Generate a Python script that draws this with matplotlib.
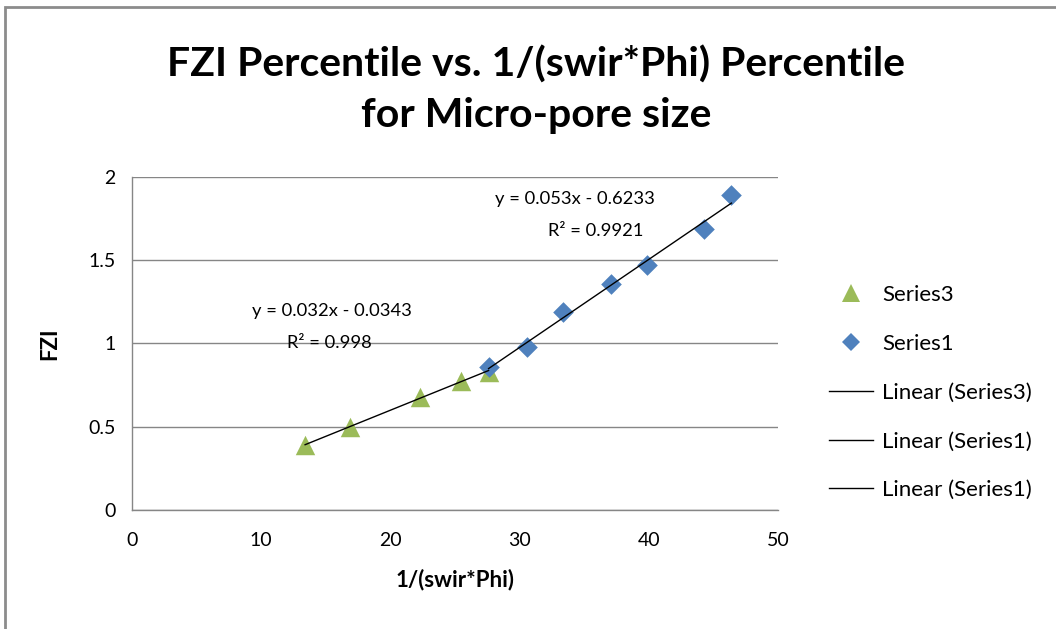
import numpy as np
import matplotlib.pyplot as plt
from matplotlib.lines import Line2D
from matplotlib.patches import Rectangle

plt.rcParams['font.family'] = ['Lato', 'DejaVu Sans']

# Series3 (triangles)
s3_x = [13.4, 16.9, 22.3, 25.5, 27.6]
s3_y = [0.39, 0.50, 0.68, 0.775, 0.83]

# Series1 (diamonds)
s1_x = [27.6, 30.6, 33.4, 37.1, 39.9, 44.3, 46.4]
s1_y = [0.86, 0.98, 1.19, 1.36, 1.47, 1.69, 1.89]

x_ticks = [0, 10, 20, 30, 40, 50]
y_ticks = [0, 0.5, 1, 1.5, 2]
y_tick_labels = ['0', '0.5', '1', '1.5', '2']

green = '#9BBB59'
blue = '#4F81BD'
grid_col = '#868686'

fig = plt.figure(figsize=(10.56, 6.29), dpi=100)
ax = fig.add_axes([0.125, 0.1892, 0.6117, 0.5294])

ax.scatter(s3_x, s3_y, marker='^', s=14**2, color=green, zorder=3, linewidths=0)
ax.scatter(s1_x, s1_y, marker='D', s=10.5**2, color=blue, zorder=4, linewidths=0)

# linear trendlines
p3 = np.polyfit(s3_x, s3_y, 1)
p1 = np.polyfit(s1_x, s1_y, 1)
ax.plot(s3_x, np.polyval(p3, s3_x), color='black', lw=1, zorder=5)
ax.plot([s1_x[0], s1_x[-1]], np.polyval(p1, [s1_x[0], s1_x[-1]]), color='black', lw=1, zorder=5)

ax.set_xlim(0, 50)
ax.set_ylim(0, 2)
ax.set_xticks(x_ticks)
ax.set_yticks(y_ticks)
ax.set_yticklabels(y_tick_labels)
ax.tick_params(length=0, labelsize=14, colors='#000000', pad=12)
ax.tick_params(axis='x', pad=16)
ax.yaxis.grid(True, color=grid_col, lw=1)
ax.set_axisbelow(True)
for side in ['top', 'right']:
    ax.spines[side].set_visible(False)
for side in ['left', 'bottom']:
    ax.spines[side].set_color(grid_col)
    ax.spines[side].set_linewidth(1)

ax.set_xlabel('1/(swir*Phi)', fontsize=16, fontweight='bold', labelpad=14)
ax.set_ylabel('FZI', fontsize=16, fontweight='bold', labelpad=20)

ax.text(34.3, 1.865, 'y = 0.053x - 0.6233', fontsize=13.2, ha='center', va='center')
ax.text(35.9, 1.675, 'R² = 0.9921', fontsize=13.2, ha='center', va='center')
ax.text(15.5, 1.195, 'y = 0.032x - 0.0343', fontsize=13.2, ha='center', va='center')
ax.text(15.3, 1.005, 'R² = 0.998', fontsize=13.2, ha='center', va='center')

fig.text(0.508, 0.857, 'FZI Percentile vs. 1/(swir*Phi) Percentile\nfor Micro-pore size',
         fontsize=29.5, fontweight='bold', ha='center', va='center', linespacing=1.45)

handles = [
    Line2D([], [], marker='^', ls='none', color=green, markersize=13, markeredgewidth=0),
    Line2D([], [], marker='D', ls='none', color=blue, markersize=9, markeredgewidth=0),
    Line2D([], [], color='black', lw=1),
    Line2D([], [], color='black', lw=1),
    Line2D([], [], color='black', lw=1),
]
labels = ['Series3', 'Series1', 'Linear (Series3)', 'Linear (Series1)', 'Linear (Series1)']
fig.legend(handles, labels, loc='center left', bbox_to_anchor=(0.766, 0.376),
           frameon=False, fontsize=16, handlelength=2.0, handletextpad=0.4,
           labelspacing=1.3)

# chart area border (top and left visible)
fig.patches.append(Rectangle((5 / 1056, -0.1), 1.2, 1 - 7 / 629 + 0.1,
                             transform=fig.transFigure, fill=False,
                             edgecolor='#8c8c8c', lw=2))

fig.savefig('out.png', dpi=100)
